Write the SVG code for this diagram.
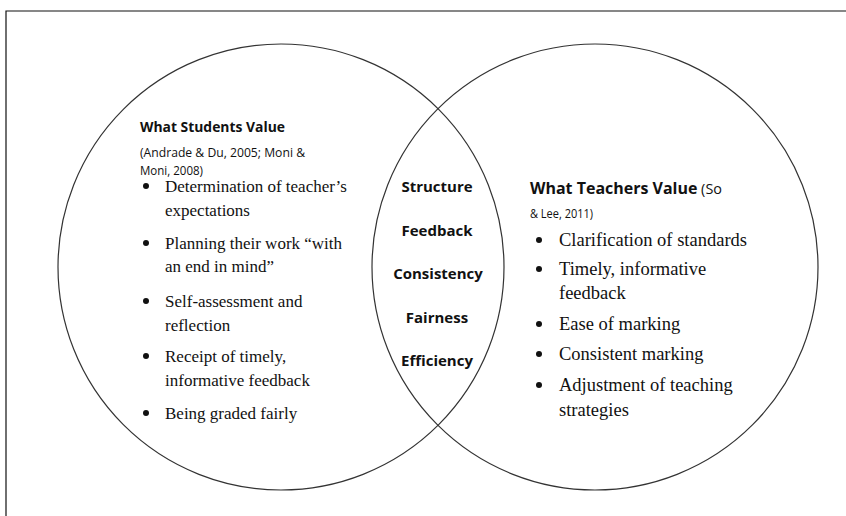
<svg xmlns="http://www.w3.org/2000/svg" width="846" height="516" viewBox="0 0 846 516">
<style>
.ring{fill:none;stroke:#333;stroke-width:1.2}
.hd{font-family:"Open Sans","Liberation Sans",sans-serif;font-weight:bold;font-size:14px;fill:#111}
.ref{font-family:"Open Sans","Liberation Sans",sans-serif;font-size:13px;fill:#111}
.sr{font-family:"Liberation Serif","Times New Roman",serif;font-size:17px;fill:#111}
.sr2{font-family:"Liberation Serif","Times New Roman",serif;font-size:18.5px;fill:#111}
.mid{font-family:"Open Sans","Liberation Sans",sans-serif;font-weight:bold;font-size:15px;fill:#111;text-anchor:middle}
.dot{fill:#111}
</style>
<rect x="0" y="0" width="846" height="516" fill="#fff"/>
<path d="M6 516 V11 H846" fill="none" stroke="#111" stroke-width="1.2"/>
<g id="left-set">
<circle class="ring" cx="281" cy="267" r="223"/>
<text class="hd" x="140" y="132" textLength="145" lengthAdjust="spacingAndGlyphs">What Students Value</text>
<text class="ref" x="140" y="157" textLength="165" lengthAdjust="spacingAndGlyphs">(Andrade &amp; Du, 2005; Moni &amp;</text>
<text class="ref" x="140" y="175" textLength="63" lengthAdjust="spacingAndGlyphs">Moni, 2008)</text>
<circle class="dot" cx="146" cy="186" r="3"/>
<text class="sr" x="165" y="192">Determination of teacher’s</text>
<text class="sr" x="165" y="216">expectations</text>
<circle class="dot" cx="146" cy="243" r="3"/>
<text class="sr" x="165" y="249">Planning their work “with</text>
<text class="sr" x="165" y="272">an end in mind”</text>
<circle class="dot" cx="146" cy="301" r="3"/>
<text class="sr" x="165" y="307">Self-assessment and</text>
<text class="sr" x="165" y="331">reflection</text>
<circle class="dot" cx="146" cy="356" r="3"/>
<text class="sr" x="165" y="362">Receipt of timely,</text>
<text class="sr" x="165" y="386">informative feedback</text>
<circle class="dot" cx="146" cy="413" r="3"/>
<text class="sr" x="165" y="419">Being graded fairly</text>
</g>
<g id="right-set">
<circle class="ring" cx="595" cy="267" r="223"/>
<text x="530" y="194" textLength="192" lengthAdjust="spacingAndGlyphs"><tspan class="hd" style="font-size:15.5px">What Teachers Value</tspan><tspan class="ref" style="font-size:14px"> (So</tspan></text>
<text class="ref" x="530" y="218" textLength="63" lengthAdjust="spacingAndGlyphs">&amp; Lee, 2011)</text>
<circle class="dot" cx="539" cy="240" r="3"/>
<text class="sr2" x="559" y="246">Clarification of standards</text>
<circle class="dot" cx="539" cy="269" r="3"/>
<text class="sr2" x="559" y="275">Timely, informative</text>
<text class="sr2" x="559" y="299">feedback</text>
<circle class="dot" cx="539" cy="324" r="3"/>
<text class="sr2" x="559" y="330">Ease of marking</text>
<circle class="dot" cx="539" cy="354" r="3"/>
<text class="sr2" x="559" y="360">Consistent marking</text>
<circle class="dot" cx="539" cy="385" r="3"/>
<text class="sr2" x="559" y="391">Adjustment of teaching</text>
<text class="sr2" x="559" y="416">strategies</text>
</g>
<g id="overlap">
<text class="mid" x="437" y="192">Structure</text>
<text class="mid" x="437" y="236">Feedback</text>
<text class="mid" x="438" y="279">Consistency</text>
<text class="mid" x="437" y="323">Fairness</text>
<text class="mid" x="437" y="366">Efficiency</text>
</g>
</svg>
